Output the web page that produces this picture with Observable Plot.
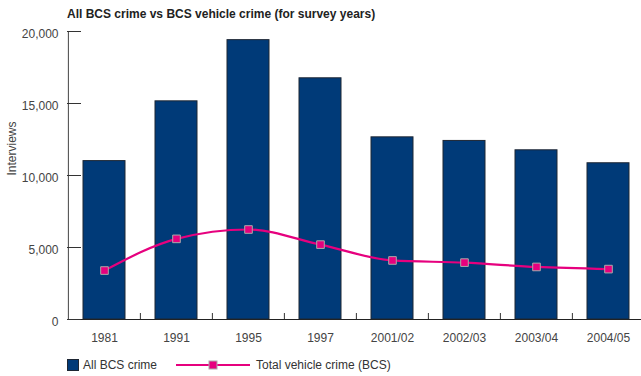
<!DOCTYPE html>
<html>
<head>
<meta charset="utf-8">
<script src="https://cdn.jsdelivr.net/npm/d3@7"></script>
<script src="https://cdn.jsdelivr.net/npm/@observablehq/plot@0.6"></script>
<style>
  body { margin: 0; background: #fff; font-family: "Liberation Sans", Arial, Helvetica, sans-serif; color: #333; }
  #title { height: 26px; line-height: 28px; padding-left: 67px; font-weight: bold; font-size: 12px; color: #222; white-space: nowrap; }
  #legend { position: relative; height: 24px; font-size: 12px; color: #333; }
  #legend span { position: absolute; top: 6px; white-space: nowrap; }
  #legend svg { position: absolute; top: 0; left: 0; }
</style>
</head>
<body>
<div id="title">All BCS crime vs BCS vehicle crime (for survey years)</div>
<div id="chart"></div>
<div id="legend"></div>
<script>
const categories = ["1981", "1991", "1995", "1997", "2001/02", "2002/03", "2003/04", "2004/05"];
const allCrime = [11000, 15150, 19400, 16750, 12650, 12400, 11750, 10850];
const vehicleCrime = [3400, 5600, 6250, 5200, 4100, 3950, 3650, 3500];
const yTicks = [0, 5000, 10000, 15000, 20000];
const seriesNames = ["All BCS crime", "Total vehicle crime (BCS)"];

const barColor = "#003a78";
const lineColor = "#e6007e";

const W = 641, H = 326, mL = 67, mR = -4, mT = 5, mB = 33;
const step = (W - mL - mR) / categories.length;
const plotW = W - mL - mR;

const bars = categories.map((c, i) => ({cat: c, value: allCrime[i]}));
const pts = categories.map((c, i) => ({cat: c, value: vehicleCrime[i]}));

const chart = Plot.plot({
  width: W, height: H,
  marginLeft: mL, marginRight: mR, marginTop: mT, marginBottom: mB,
  style: {fontFamily: "'Liberation Sans', Arial, sans-serif", fontSize: "12px", color: "#333", background: "transparent"},
  x: {domain: categories, paddingInner: 0.42, paddingOuter: 0.21, axis: null},
  y: {domain: [0, 20000], axis: null},
  marks: [
    Plot.barY(bars, {x: "cat", y: "value", fill: barColor, stroke: "#1d2633", strokeWidth: 1}),
    Plot.ruleY([0], {stroke: "#222", strokeWidth: 1}),
    Plot.ruleX([categories[0]], {x: d => d, dx: -step / 2, y1: 0, y2: 20000, stroke: "#444", strokeWidth: 1}),
    Plot.ruleY(yTicks, {y: d => d, insetRight: plotW - 14, stroke: "#333", strokeWidth: 1}),
    Plot.ruleX(categories.slice(1), {x: d => d, dx: -step / 2, y1: 0, y2: 0, insetBottom: 6, stroke: "#333", strokeWidth: 1}),
    Plot.line(pts, {x: "cat", y: "value", stroke: lineColor, strokeWidth: 2.2, curve: "monotone-x"}),
    Plot.dot(pts, {x: "cat", y: "value", symbol: "square", r: 4.3, fill: lineColor, stroke: "#aaa", strokeWidth: 1}),
    Plot.axisY(yTicks, {tickSize: 0, tickPadding: 9, tickFormat: d3.format(","), fontSize: 12, dy: 3, label: null, fill: "#444"}),
    Plot.axisX({tickSize: 0, tickPadding: 14, fontSize: 12, label: null, fill: "#444"}),
    Plot.text(["Interviews"], {text: d => d, frameAnchor: "left", rotate: -90, dx: -55, fontSize: 12, fill: "#444"})
  ]
});
document.getElementById("chart").appendChild(chart);

// legend
const legend = document.getElementById("legend");
legend.innerHTML = `
<svg width="641" height="24">
  <rect x="67.5" y="7.5" width="11" height="11" fill="${barColor}" stroke="#1d2633"/>
  <line x1="176" y1="13" x2="250" y2="13" stroke="${lineColor}" stroke-width="2.2"/>
  <rect x="209" y="9" width="8" height="8" fill="${lineColor}" stroke="#aaa"/>
</svg>
<span style="left:83px">${seriesNames[0]}</span>
<span style="left:256px">${seriesNames[1]}</span>`;
</script>
</body>
</html>
